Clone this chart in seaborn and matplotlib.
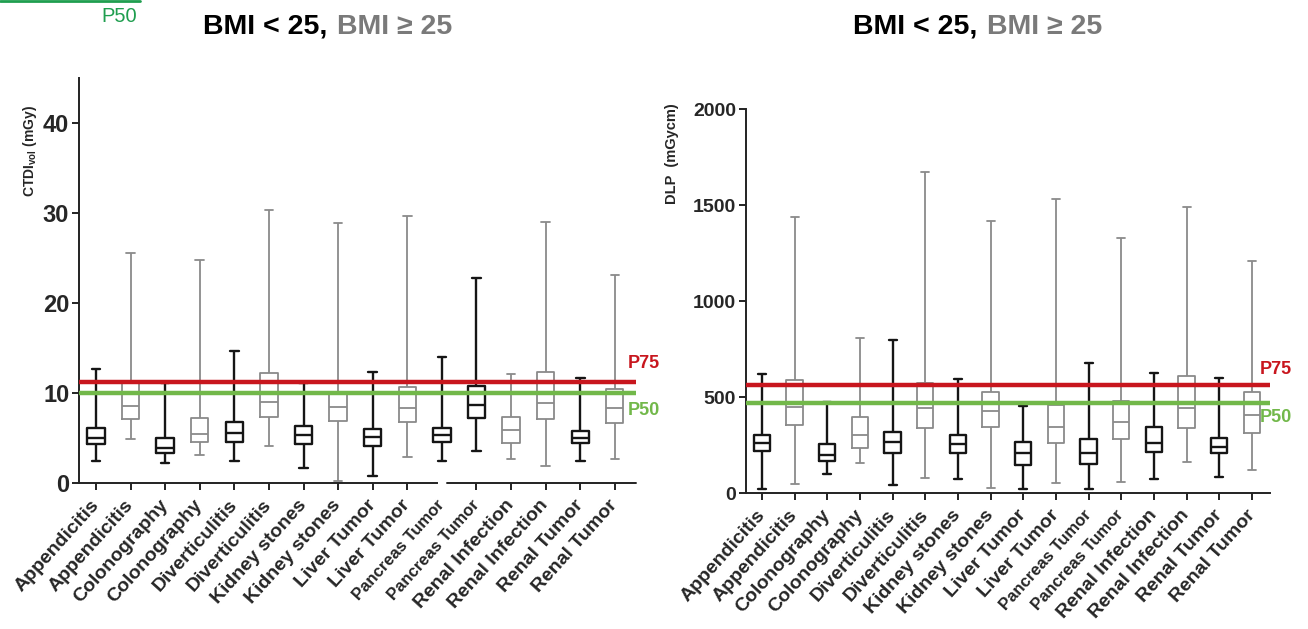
import numpy as np
import pandas as pd
import matplotlib.pyplot as plt
from matplotlib.lines import Line2D
import seaborn as sns

# --- data -------------------------------------------------------------
labels = ["Appendicitis", "Appendicitis", "Colonography", "Colonography",
          "Diverticulitis", "Diverticulitis", "Kidney stones", "Kidney stones",
          "Liver Tumor", "Liver Tumor", "Pancreas Tumor", "Pancreas Tumor",
          "Renal Infection", "Renal Infection", "Renal Tumor", "Renal Tumor"]

# "lo" = BMI < 25 (black), "hi" = BMI >= 25 (grey)
ctdi_group = ["lo", "hi", "lo", "hi", "lo", "hi", "lo", "hi",
              "lo", "hi", "lo", "lo", "hi", "hi", "lo", "hi"]
dlp_group = ["lo", "hi"] * 8

# CTDIvol (mGy): min / Q1 / median / Q3 / max
ctdi_min = [2.5, 4.9, 2.2, 3.1, 2.5, 4.1, 1.7, 0.2, 0.8, 2.9, 2.5, 3.6, 2.7, 1.9, 2.5, 2.7]
ctdi_q1 = [4.3, 7.1, 3.3, 4.6, 4.6, 7.3, 4.3, 6.9, 4.1, 6.8, 4.6, 7.2, 4.5, 7.1, 4.4, 6.7]
ctdi_med = [5.0, 8.6, 3.9, 5.5, 5.6, 9.0, 5.3, 8.5, 5.1, 8.3, 5.3, 8.7, 5.9, 8.9, 5.0, 8.3]
ctdi_q3 = [6.1, 11.2, 5.0, 7.2, 6.8, 12.2, 6.3, 10.1, 6.0, 10.7, 6.1, 10.8, 7.3, 12.3, 5.8, 10.4]
ctdi_max = [12.7, 25.6, 11.1, 24.8, 14.7, 30.3, 11.1, 28.9, 12.3, 29.7, 14.0, 22.8, 12.1, 29.0, 11.7, 23.1]
ctdi_p75 = 11.2
ctdi_p50 = 10.0

# DLP (mGycm): min / Q1 / median / Q3 / max
dlp_min = [21, 47, 99, 156, 42, 78, 73, 26, 21, 52, 21, 57, 73, 161, 83, 120]
dlp_q1 = [219, 354, 167, 234, 208, 339, 208, 344, 146, 260, 151, 281, 214, 339, 208, 313]
dlp_med = [260, 448, 198, 302, 266, 443, 255, 427, 208, 344, 208, 370, 260, 443, 240, 406]
dlp_q3 = [302, 589, 255, 396, 318, 573, 302, 526, 266, 458, 281, 479, 344, 609, 286, 526]
dlp_max = [620, 1437, 474, 807, 797, 1672, 594, 1417, 453, 1531, 677, 1328, 625, 1490, 599, 1208]
dlp_p75 = 562
dlp_p50 = 469

BLACK = "#151515"
GREY = "#8a8a8a"
RED = "#c8161e"
GREEN = "#72b84a"


def long_table(mins, q1s, meds, q3s, maxs, groups):
    """Five summary points per box; whiskers min-max, quartiles exact."""
    rows = []
    for i in range(len(mins)):
        for v in (mins[i], q1s[i], meds[i], q3s[i], maxs[i]):
            rows.append({"pos": i, "value": v, "group": groups[i]})
    return pd.DataFrame(rows)


def draw_panel(ax, df, p75, p50, ylim, yticks, tick_size):
    order = list(range(len(labels)))
    for grp, color, lw in (("hi", GREY, 1.3), ("lo", BLACK, 1.7)):
        sub = df[df["group"] == grp]
        sns.boxplot(data=sub, x="pos", y="value", order=order, whis=(0, 100),
                    width=0.5, fill=False, color=color, linewidth=lw,
                    showfliers=False, ax=ax)
    ax.axhline(p75, color=RED, lw=3.2, zorder=5)
    ax.axhline(p50, color=GREEN, lw=3.2, zorder=5)

    ax.set_ylim(*ylim)
    ax.set_yticks(yticks)
    ax.set_yticklabels([str(t) for t in yticks], fontsize=tick_size,
                       fontweight="bold")
    ax.set_xticks(order)
    ax.set_xticklabels(labels, rotation=48, ha="right", va="center",
                       rotation_mode="anchor", fontweight="bold", fontsize=14)
    for t in ax.get_xticklabels():
        if t.get_text().startswith("Pancreas"):
            t.set_fontsize(12)
    ax.set_xlabel("")
    sns.despine(ax=ax)
    for s in ("left", "bottom"):
        ax.spines[s].set_linewidth(1.4)
        ax.spines[s].set_color("#222222")
    ax.tick_params(axis="both", direction="out", length=5, width=1.4,
                   color="#222222", pad=2)
    ax.tick_params(axis="x", pad=9)


sns.set_theme(style="ticks")
plt.rcParams["font.family"] = ["Liberation Sans", "DejaVu Sans"]

fig = plt.figure(figsize=(13.08, 6.29), dpi=100)
ax1 = fig.add_axes([0.0604, 0.2321, 0.4258, 0.6439])
ax2 = fig.add_axes([0.5703, 0.2162, 0.4006, 0.6105])

ctdi_df = long_table(ctdi_min, ctdi_q1, ctdi_med, ctdi_q3, ctdi_max, ctdi_group)
dlp_df = long_table(dlp_min, dlp_q1, dlp_med, dlp_q3, dlp_max, dlp_group)

draw_panel(ax1, ctdi_df, ctdi_p75, ctdi_p50, (0, 45), [0, 10, 20, 30, 40], 17)
ax1.set_xlim(-0.49, 15.61)
ax1.set_ylabel(r"CTDI$_{\mathregular{vol}}$ (mGy)", fontsize=10, fontweight="bold")
ax1.yaxis.set_label_coords(-0.072, 0.82)
ax1.text(15.38, 13.3, "P75", color=RED, fontsize=13, fontweight="bold", va="center")
ax1.text(15.38, 8.1, "P50", color=GREEN, fontsize=13, fontweight="bold", va="center")
# broken x axis of the left panel (gap at the first Pancreas Tumor tick)
ax1.spines["bottom"].set_bounds(-0.49, 9.85)
ax1.add_line(Line2D([10.15, 15.61], [0, 0], color="#222222", lw=1.4,
                    clip_on=False, zorder=3))
ax1.xaxis.get_major_ticks()[10].tick1line.set_visible(False)

draw_panel(ax2, dlp_df, dlp_p75, dlp_p50, (0, 2000), [0, 500, 1000, 1500, 2000], 14)
ax2.set_xlim(-0.49, 15.55)
ax2.set_ylabel("DLP  (mGycm)", fontsize=10.5, fontweight="bold")
ax2.yaxis.set_label_coords(-0.128, 0.885)
ax2.text(15.23, 641, "P75", color=RED, fontsize=13, fontweight="bold", va="center")
ax2.text(15.23, 391, "P50", color=GREEN, fontsize=13, fontweight="bold", va="center")

# titles: black and grey halves
for x_end, x_start in ((327 / 1308, 337 / 1308), (977 / 1308, 987 / 1308)):
    fig.text(x_end, 1 - 27 / 629, "BMI < 25,", ha="right", va="center",
             fontsize=20.5, fontweight="bold", color="black")
    fig.text(x_start, 1 - 27 / 629, "BMI \u2265 25", ha="left", va="center",
             fontsize=20.5, fontweight="bold", color="#7a7a7a")

# cropped legend fragment in the top-left corner
fig.add_artist(Line2D([0, 140 / 1308], [1 - 1 / 629, 1 - 1 / 629],
                      color="#1f9e4f", lw=2, transform=fig.transFigure))
fig.text(101 / 1308, 1 - 17 / 629, "P50", color="#1f9e4f", fontsize=14.5,
         va="center", ha="left")

fig.savefig("out.png", dpi=100)
